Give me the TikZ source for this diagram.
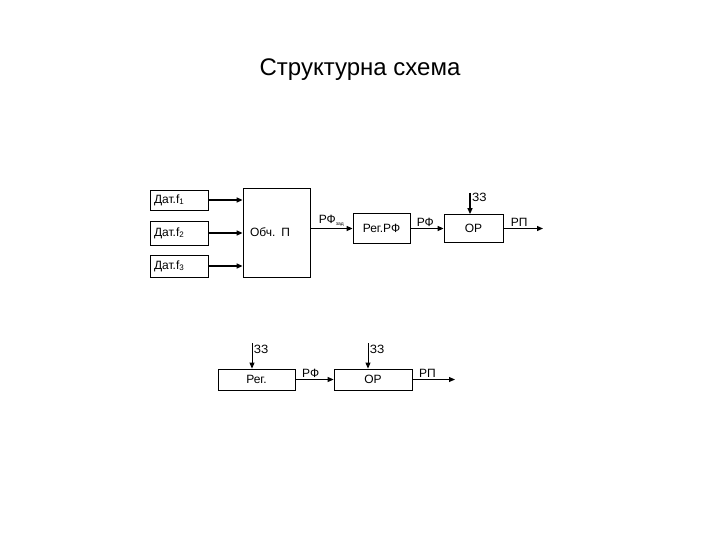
\documentclass[tikz,border=0pt]{standalone}
\usepackage{fontspec}
\setmainfont{Liberation Sans}
\usetikzlibrary{arrows.meta}

\begin{document}
\begin{tikzpicture}[x=1pt,y=-1pt,
  blk/.style={draw, line width=0.8pt, inner sep=0pt, font=\fontsize{12}{14}\selectfont},
  datbox/.style={blk, inner xsep=4pt, text width=50pt, align=left, minimum height=#1},
  sig/.style={line width=1.3pt, -{Triangle[length=6pt,width=5pt]}},
  thin sig/.style={line width=0.9pt, -{Triangle[length=6pt,width=5pt]}},
  lbl/.style={font=\fontsize{12}{14}\selectfont, inner sep=1.5pt}]
\useasboundingbox (0,0) rectangle (720,540);

\node[font=\fontsize{24}{28}\selectfont] (title) at (360,70) {Структурна схема};

% sensors and computing unit
\node[datbox=20pt] (dat1) at (179,200) {Дат.f\textsubscript{1}};
\node[datbox=24pt] (dat2) at (179,233) {Дат.f\textsubscript{2}};
\node[datbox=22pt] (dat3) at (179,266) {Дат.f\textsubscript{3}};
\node[blk, inner xsep=7pt, text width=53pt, align=left, minimum height=89pt] (obch) at (276.5,232.5) {Обч. П};

% upper chain
\node[blk, minimum width=57pt, minimum height=30pt] (reg) at (381.5,228.5) {Рег.РФ};
\node[blk, minimum width=59pt, minimum height=28pt] (or1) at (473.5,228.5) {ОР};
\coordinate (zz1) at (470,193);
\coordinate (out1) at (543,228.5);

% lower chain
\node[blk, minimum width=77pt, minimum height=21pt] (reg2) at (256.5,379.5) {Рег.};
\node[blk, minimum width=78pt, minimum height=21pt] (or2) at (373,379.5) {ОР};
\coordinate (zz2) at (252,343);
\coordinate (zz3) at (368,343);
\coordinate (out2) at (455,379.5);

\draw[sig] (dat1.east) -- (dat1.east -| obch.west);
\draw[sig] (dat2.east) -- (dat2.east -| obch.west);
\draw[sig] (dat3.east) -- (dat3.east -| obch.west);
\draw[sig] (obch.east |- reg.west) -- node[lbl, above] {РФ\textsubscript{\tiny зад}} (reg.west);
\draw[sig] (reg.east) -- node[lbl, above, pos=0.45] {РФ} (or1.west);
\draw[sig] (zz1) -- node[lbl, right, pos=0.2] {ЗЗ} (zz1 |- or1.north);
\draw[sig] (or1.east) -- node[lbl, above, pos=0.4] {РП} (out1);

\draw[thin sig] (zz2) -- node[lbl, right, pos=0.25] {ЗЗ} (zz2 |- reg2.north);
\draw[thin sig] (zz3) -- node[lbl, right, pos=0.25] {ЗЗ} (zz3 |- or2.north);
\draw[thin sig] (reg2.east) -- node[lbl, above, pos=0.4] {РФ} (or2.west);
\draw[thin sig] (or2.east) -- node[lbl, above, pos=0.35] {РП} (out2);
\end{tikzpicture}
\end{document}
